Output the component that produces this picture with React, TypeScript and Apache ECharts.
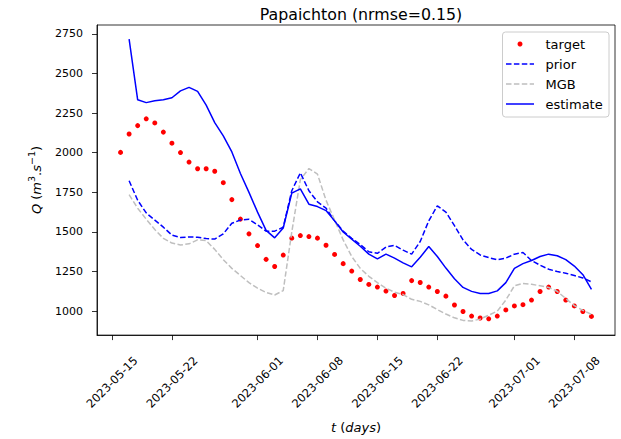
import React, { useEffect, useRef } from 'react';
import * as echarts from 'echarts';

// Daily discharge series (m3/s)
const targetStart = '2023-05-16';
const modelStart = '2023-05-17';

const targetValues = [
  2002, 2118, 2171, 2214, 2188, 2130, 2060, 2001, 1941, 1899,
  1899, 1883, 1811, 1704, 1581, 1488, 1414, 1327, 1282, 1354,
  1461, 1477, 1471, 1461, 1416, 1358, 1300, 1253, 1200, 1169,
  1152, 1127, 1099, 1112, 1193, 1181, 1152, 1124, 1095, 1039,
  998, 969, 957, 952, 969, 1008, 1033, 1041, 1070, 1124,
  1152, 1124, 1070, 1033, 998, 967,
];

const priorValues = [
  1823, 1700, 1620, 1575, 1530, 1480, 1465, 1468, 1467, 1458,
  1455, 1488, 1555, 1575, 1580, 1545, 1505, 1505, 1530, 1760,
  1873, 1760, 1690, 1650, 1570, 1505, 1460, 1420, 1375, 1365,
  1405, 1415, 1385, 1360, 1440, 1570, 1665, 1625, 1540, 1450,
  1390, 1355, 1338, 1325, 1335, 1360, 1370, 1320, 1290, 1265,
  1250, 1240, 1225, 1210, 1185,
];

const mgbValues = [
  1735, 1650, 1580, 1515, 1460, 1430, 1418, 1425, 1450, 1445,
  1390, 1325, 1270, 1225, 1180, 1145, 1118, 1102, 1130, 1500,
  1830, 1900, 1865, 1700, 1575, 1450, 1345, 1270, 1220, 1180,
  1145, 1120, 1105, 1075, 1062, 1040, 1010, 982, 958, 942,
  938, 950, 975, 1000, 1070, 1160, 1175, 1170, 1160, 1150,
  1125, 1080, 1035, 1005, 980,
];

const estimateValues = [
  2717, 2334, 2316, 2328, 2334, 2347, 2390, 2412, 2387, 2300,
  2190, 2106, 2005, 1869, 1750, 1625, 1510, 1463, 1525, 1745,
  1772, 1675, 1660, 1635, 1570, 1500, 1455, 1410, 1360, 1330,
  1360, 1335, 1305, 1280, 1340, 1408, 1345, 1272, 1205, 1150,
  1125, 1112, 1112, 1128, 1180, 1270, 1300, 1320, 1345, 1360,
  1350, 1325, 1285, 1230, 1138,
];

const tickDates = [
  '2023-05-15', '2023-05-22', '2023-06-01', '2023-06-08',
  '2023-06-15', '2023-06-22', '2023-07-01', '2023-07-08',
];
const yTicks = [1000, 1250, 1500, 1750, 2000, 2250, 2500, 2750];

const seriesNames = ['target', 'prior', 'MGB', 'estimate'];

const DAY = 86400000;
const toTs = (d: string) => Date.parse(d + 'T00:00:00Z');
const dated = (start: string, values: number[]) =>
  values.map((v, i) => [toTs(start) + i * DAY, v]);

const FONT = 'DejaVu Sans';

export default function App() {
  const ref = useRef<HTMLDivElement>(null);

  useEffect(() => {
    document.body.style.margin = '0';
    if (!ref.current) return;
    const chart = echarts.init(ref.current, null, { renderer: 'svg' });

    const target = dated(targetStart, targetValues);
    const prior = dated(modelStart, priorValues);
    const mgb = dated(modelStart, mgbValues);
    const estimate = dated(modelStart, estimateValues);

    // 5% margins around the data, like the default autoscale
    const all = [target, prior, mgb, estimate].flat();
    const xs = all.map((p) => p[0]);
    const ys = all.map((p) => p[1]);
    const xMin = Math.min(...xs), xMax = Math.max(...xs);
    const yMin = Math.min(...ys), yMax = Math.max(...ys);
    const xPad = (xMax - xMin) * 0.05;
    const yPad = (yMax - yMin) * 0.05;

    const gridLeft = 97, gridTop = 25, gridRight = 6, gridBottom = 97;
    const plotCx = gridLeft + (621 - gridLeft - gridRight) / 2;

    // legend box (upper right)
    const lx = 502.5, ly = 32, lw = 106.5, lh = 85;
    const rows = [44, 64, 84, 104];
    const hx0 = 506, hx1 = 534, tx = 545.5;
    const legend: any[] = [
      {
        type: 'rect',
        shape: { x: lx, y: ly, width: lw, height: lh, r: 3 },
        style: { fill: 'rgba(255,255,255,0.8)', stroke: '#cccccc', lineWidth: 1 },
        z: 100,
      },
      {
        type: 'circle',
        shape: { cx: (hx0 + hx1) / 2, cy: rows[0], r: 2.5 },
        style: { fill: '#ff0000' },
        z: 101,
      },
      {
        type: 'line',
        shape: { x1: hx0, y1: rows[1], x2: hx1, y2: rows[1] },
        style: { stroke: '#0000ff', lineWidth: 1.5, lineDash: [5.5, 2.4] },
        z: 101,
      },
      {
        type: 'line',
        shape: { x1: hx0, y1: rows[2], x2: hx1, y2: rows[2] },
        style: { stroke: '#bfbfbf', lineWidth: 1.5, lineDash: [5.5, 2.4] },
        z: 101,
      },
      {
        type: 'line',
        shape: { x1: hx0, y1: rows[3], x2: hx1, y2: rows[3] },
        style: { stroke: '#0000ff', lineWidth: 1.5 },
        z: 101,
      },
      ...seriesNames.map((name, i) => ({
        type: 'text',
        x: tx,
        y: rows[i],
        style: {
          text: name,
          font: `13px "${FONT}"`,
          fill: '#000',
          verticalAlign: 'middle',
        },
        z: 101,
      })),
    ];

    const base = { fontFamily: FONT, fontSize: 13, color: '#000', lineHeight: 17, verticalAlign: 'bottom' };
    const nameRich = {
      r: { ...base },
      i: { ...base, fontStyle: 'italic' },
      sup: { fontFamily: FONT, fontSize: 9.5, color: '#000', lineHeight: 17, verticalAlign: 'top' },
    };

    chart.setOption({
      animation: false,
      backgroundColor: '#ffffff',
      textStyle: { fontFamily: FONT },
      title: {
        text: 'Papaichton (nrmse=0.15)',
        left: plotCx,
        top: 1,
        textAlign: 'center',
        textStyle: { fontFamily: FONT, fontSize: 15.8, fontWeight: 'normal', color: '#000' },
      },
      grid: {
        left: gridLeft,
        top: gridTop,
        right: gridRight,
        bottom: gridBottom,
        show: true,
        borderColor: '#000',
        borderWidth: 0.8,
        backgroundColor: 'transparent',
      },
      xAxis: {
        type: 'value',
        min: xMin - xPad,
        max: xMax + xPad,
        name: '{i|t} {r|(}{i|days}{r|)}',
        nameLocation: 'middle',
        nameGap: 82,
        nameTextStyle: { ...base, rich: nameRich },
        splitLine: { show: false },
        axisLine: { show: true, lineStyle: { color: '#000', width: 0.8 } },
        axisTick: {
          show: true,
          length: 5,
          lineStyle: { color: '#000', width: 0.8 },
          customValues: tickDates.map(toTs),
        },
        axisLabel: {
          customValues: tickDates.map(toTs),
          formatter: (v: number) => new Date(v).toISOString().slice(0, 10),
          rotate: 45,
          align: 'center',
          verticalAlign: 'middle',
          margin: 47,
          fontFamily: FONT,
          fontSize: 11.5,
          color: '#000',
        },
      },
      yAxis: {
        type: 'value',
        min: yMin - yPad,
        max: yMax + yPad,
        name: '{i|Q} {r|(}{i|m}{sup|3}{r|.}{i|s}{sup|−1}{r|)}',
        nameLocation: 'middle',
        nameGap: 54,
        nameTextStyle: { ...base, rich: nameRich },
        splitLine: { show: false },
        axisLine: { show: true, lineStyle: { color: '#000', width: 0.8 } },
        axisTick: {
          show: true,
          length: 5,
          lineStyle: { color: '#000', width: 0.8 },
          customValues: yTicks,
        },
        axisLabel: {
          customValues: yTicks,
          formatter: (v: number) => String(v),
          margin: 14,
          fontFamily: FONT,
          fontSize: 11,
          color: '#000',
        },
      },
      series: [
        {
          name: seriesNames[0],
          type: 'scatter',
          data: target,
          symbol: 'circle',
          symbolSize: 5,
          itemStyle: { color: '#ff0000', opacity: 1 },
          z: 2,
        },
        {
          name: seriesNames[1],
          type: 'line',
          data: prior,
          showSymbol: false,
          symbol: 'none',
          lineStyle: { color: '#0000ff', width: 1.5, type: [5.5, 2.4] },
          z: 3,
        },
        {
          name: seriesNames[2],
          type: 'line',
          data: mgb,
          showSymbol: false,
          symbol: 'none',
          lineStyle: { color: '#bfbfbf', width: 1.5, type: [5.5, 2.4] },
          z: 4,
        },
        {
          name: seriesNames[3],
          type: 'line',
          data: estimate,
          showSymbol: false,
          symbol: 'none',
          lineStyle: { color: '#0000ff', width: 1.5 },
          z: 5,
        },
      ],
      graphic: legend,
    });

    return () => chart.dispose();
  }, []);

  return <div ref={ref} style={{ width: 621, height: 439 }} />;
}
